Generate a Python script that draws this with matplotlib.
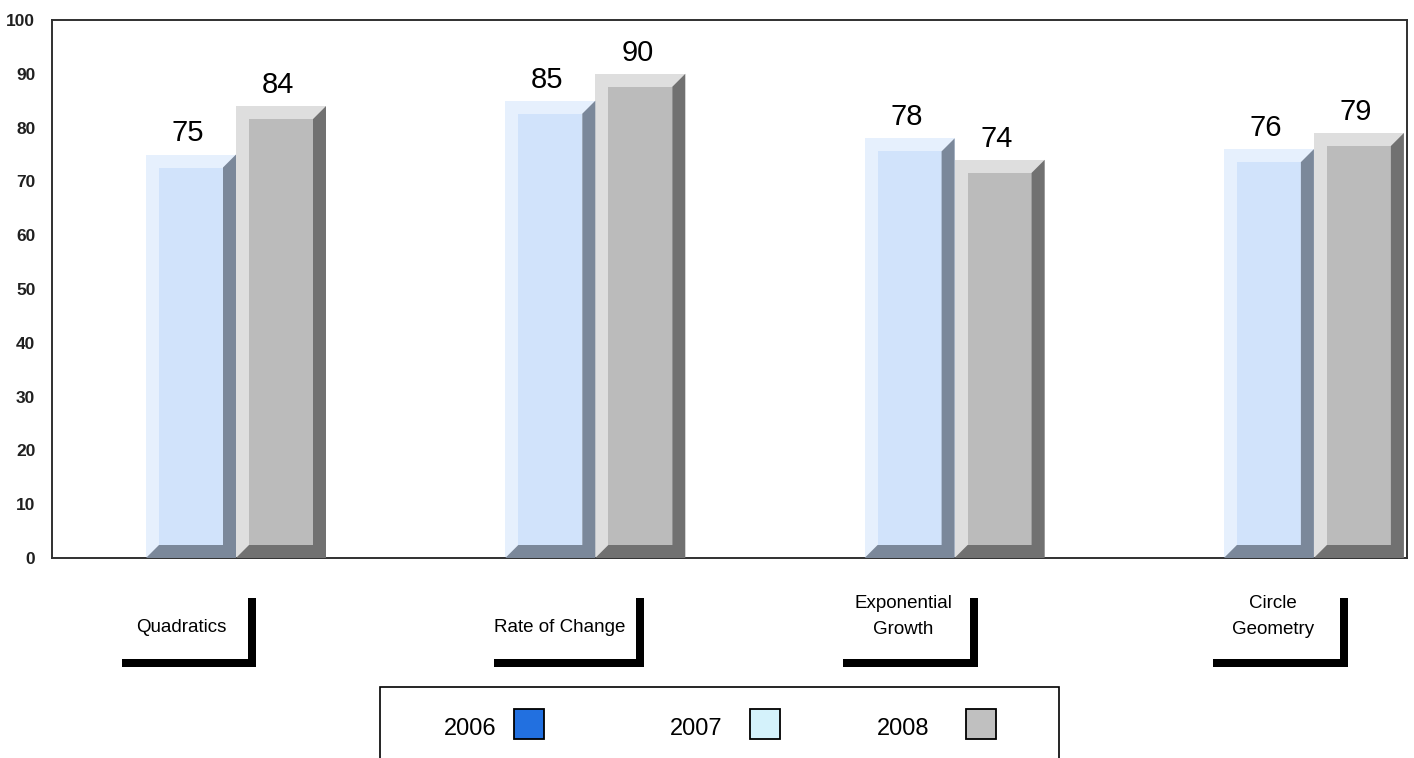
import matplotlib
matplotlib.use("Agg")
import matplotlib.pyplot as plt
from matplotlib.patches import Polygon, Rectangle
from matplotlib import font_manager

# ---------------- data ----------------
categories = ["Quadratics", "Rate of Change", "Exponential\nGrowth", "Circle\nGeometry"]
years = ["2006", "2007", "2008"]
values_2007 = [75, 85, 78, 76]
values_2008 = [84, 90, 74, 79]
y_ticks = [0, 10, 20, 30, 40, 50, 60, 70, 80, 90, 100]

# ---------------- style ----------------
W_FIG, H_FIG = 1414, 758
plt.rcParams['font.family'] = ['Liberation Sans', 'DejaVu Sans']

def has_font(name):
    try:
        font_manager.findfont(name, fallback_to_default=False)
        return True
    except Exception:
        return False

narrow = 'Liberation Sans Narrow' if has_font('Liberation Sans Narrow') else 'Liberation Sans'

fig = plt.figure(figsize=(W_FIG / 100, H_FIG / 100), dpi=100)
fig.patch.set_facecolor('white')

def fx(x):
    return x / W_FIG

def fy(y):
    return 1 - y / H_FIG

ax_l, ax_r, ax_t, ax_b = 52, 1407, 20, 558
ax = fig.add_axes([fx(ax_l), fy(ax_b), fx(ax_r - ax_l), (ax_b - ax_t) / H_FIG])

spacing_px = 359.3
first_center_px = 236
ax.set_xlim((ax_l - first_center_px) / spacing_px, (ax_r - first_center_px) / spacing_px)
ax.set_ylim(0, 100)

px_per_unit = (ax_b - ax_t) / 100.0
bar_w = 90 / spacing_px
dx = 13 / spacing_px
dy = 13 / px_per_unit

series = [
    (values_2007, -bar_w, ('#e6f0fd', '#d1e3fb', '#7b889a')),
    (values_2008, 0.0, ('#dedede', '#bbbbbb', '#717171')),
]

for vals, off, (c_out, c_face, c_dark) in series:
    xs = [i + off for i in range(len(vals))]
    ax.bar(xs, vals, width=bar_w, align='edge', color=c_out, linewidth=0, zorder=2)
    ax.bar([x + dx for x in xs], [v - 2 * dy for v in vals], bottom=dy,
           width=bar_w - 2 * dx, align='edge', color=c_face, linewidth=0, zorder=3)
    for x0, v in zip(xs, vals):
        pts = [(x0 + bar_w - dx, v - dy), (x0 + bar_w, v), (x0 + bar_w, 0),
               (x0, 0), (x0 + dx, dy), (x0 + bar_w - dx, dy)]
        ax.add_patch(Polygon(pts, closed=True, facecolor=c_dark, edgecolor='none', zorder=4))
        ax.annotate(str(v), xy=(x0 + bar_w / 2 - 0.008, v), xytext=(0, 9.4),
                    textcoords='offset points', ha='center', va='baseline',
                    fontsize=21, color='black', zorder=5)

ax.set_xticks([])
ax.set_yticks(y_ticks)
ax.set_yticklabels([str(t) for t in y_ticks], fontsize=12.5, family=narrow,
                   fontweight='bold', color='#202020')
ax.tick_params(axis='y', length=0, pad=12)
for s in ax.spines.values():
    s.set_color('#303030')
    s.set_linewidth(1.4)
ax.set_facecolor('white')

# ---------------- category labels with L-shaped frames ----------------
boxes = [(122, 256, 181), (494, 644, 560), (843, 978, 903), (1213, 1348, 1273)]
for cat, (xl, xr, xc) in zip(categories, boxes):
    fig.patches.append(Rectangle((fx(xr - 8), fy(667)), 8 / W_FIG, (667 - 598) / H_FIG,
                                 transform=fig.transFigure, facecolor='black', edgecolor='none'))
    fig.patches.append(Rectangle((fx(xl), fy(667)), (xr - xl) / W_FIG, 8 / H_FIG,
                                 transform=fig.transFigure, facecolor='black', edgecolor='none'))
    yc = 627 if '\n' not in cat else 616.5
    fig.text(fx(xc), fy(yc), cat, ha='center', va='center', fontsize=13.5,
             linespacing=1.7, color='black')

# ---------------- legend ----------------
fig.patches.append(Rectangle((fx(380), fy(770)), (1059 - 380) / W_FIG, (770 - 687) / H_FIG,
                             transform=fig.transFigure, facecolor='white',
                             edgecolor='black', linewidth=1.2))
legend_colors = ['#2270e0', '#d4f2fb', '#c0c0c0']
legend_text_x = [444, 670, 877]
legend_sq_x = [514, 750, 966]
for yr, col, tx, sx in zip(years, legend_colors, legend_text_x, legend_sq_x):
    fig.text(fx(tx), fy(735), yr, ha='left', va='baseline', fontsize=17, color='black')
    fig.patches.append(Rectangle((fx(sx), fy(739)), 30 / W_FIG, 30 / H_FIG,
                                 transform=fig.transFigure, facecolor=col,
                                 edgecolor='black', linewidth=1.3))

fig.savefig('out.png', dpi=100, facecolor='white')
